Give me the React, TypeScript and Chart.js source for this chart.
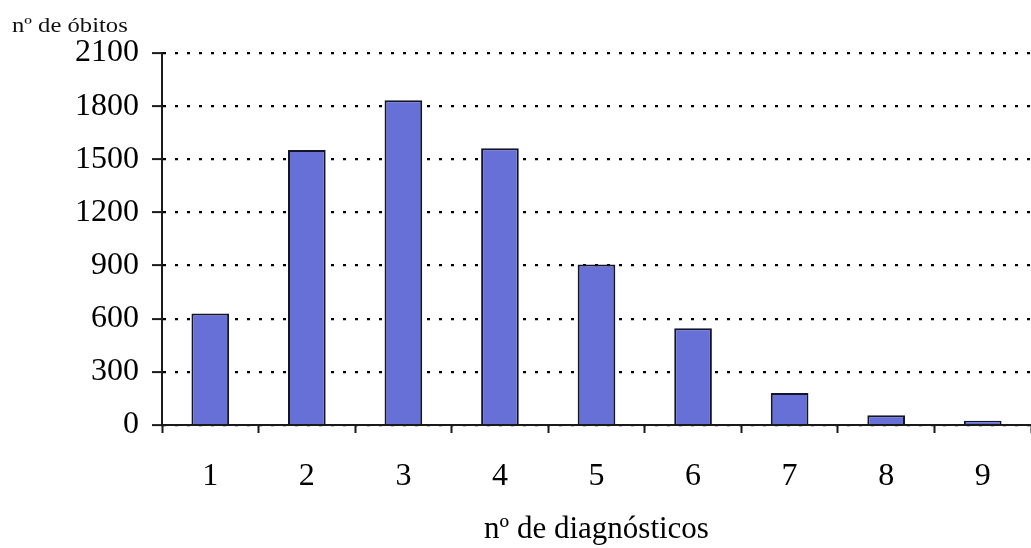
import React, { useEffect, useRef } from "react";
import { Chart, registerables } from "chart.js";

Chart.register(...registerables);

// Number of diagnoses per death certificate
const categories: string[] = ["1", "2", "3", "4", "5", "6", "7", "8", "9"];
// Deaths for each number of diagnoses
const deaths: number[] = [630, 1552, 1833, 1563, 906, 546, 180, 55, 24];
// Vertical axis ticks
const yTicks: number[] = [0, 300, 600, 900, 1200, 1500, 1800, 2100];

const yAxisTitle = "nº de óbitos";
const xAxisTitle = "nº de diagnósticos";

const SERIF = "'Liberation Serif', 'Times New Roman', serif";

const cornerTitle = {
  id: "cornerTitle",
  afterDraw(chart: Chart) {
    const { ctx } = chart;
    ctx.save();
    ctx.fillStyle = "#111";
    ctx.font = `22px ${SERIF}`;
    ctx.textBaseline = "alphabetic";
    ctx.textAlign = "left";
    ctx.translate(12, 32);
    ctx.scale(1.12, 1);
    ctx.fillText(yAxisTitle, 0, 0);
    ctx.restore();
  },
};

export default function App() {
  const canvasRef = useRef<HTMLCanvasElement | null>(null);

  useEffect(() => {
    if (!canvasRef.current) return;
    const chart = new Chart(canvasRef.current, {
      type: "bar",
      data: {
        labels: categories,
        datasets: [
          {
            data: deaths,
            backgroundColor: "#6670D6",
            borderColor: "#15152a",
            borderWidth: 2,
            borderSkipped: "bottom",
            barPercentage: 0.39,
            categoryPercentage: 1,
          },
        ],
      },
      options: {
        animation: false,
        responsive: false,
        maintainAspectRatio: false,
        layout: { padding: { top: 53, left: 0, right: 0, bottom: 0 } },
        plugins: {
          legend: { display: false },
          tooltip: { enabled: false },
        },
        scales: {
          x: {
            offset: true,
            afterFit: (scale: any) => {
              scale.height = 123;
            },
            grid: {
              offset: true,
              drawOnChartArea: false,
              drawTicks: true,
              tickLength: 8,
              tickColor: "#1a1a1a",
              tickWidth: 2,
            },
            border: { display: true, color: "#1a1a1a", width: 2 },
            ticks: {
              color: "#000",
              font: { family: SERIF, size: 32 },
              padding: 24,
              maxRotation: 0,
            },
            title: {
              display: true,
              text: xAxisTitle,
              color: "#000",
              font: { family: SERIF, size: 31 },
              padding: { top: 0, bottom: 0 },
            },
          },
          y: {
            min: 0,
            max: 2100,
            afterFit: (scale: any) => {
              scale.width = 162;
            },
            afterBuildTicks: (scale: any) => {
              scale.ticks = yTicks.map((v) => ({ value: v }));
            },
            grid: {
              color: "#000",
              lineWidth: 2.2,
              drawTicks: true,
              tickLength: 10,
              tickColor: "#1a1a1a",
              tickWidth: 2,
              tickBorderDash: [],
            },
            border: { display: true, color: "#1a1a1a", width: 2, dash: [3, 9] },
            ticks: {
              color: "#000",
              font: { family: SERIF, size: 32 },
              padding: 13,
              callback: (value: any) => String(value),
            },
          },
        },
      },
      plugins: [cornerTitle],
    });
    return () => chart.destroy();
  }, []);

  return (
    <div style={{ position: "fixed", left: 0, top: 0, width: 1031, height: 548, background: "#fff" }}>
      <canvas ref={canvasRef} width={1031} height={548} style={{ display: "block" }} />
    </div>
  );
}
